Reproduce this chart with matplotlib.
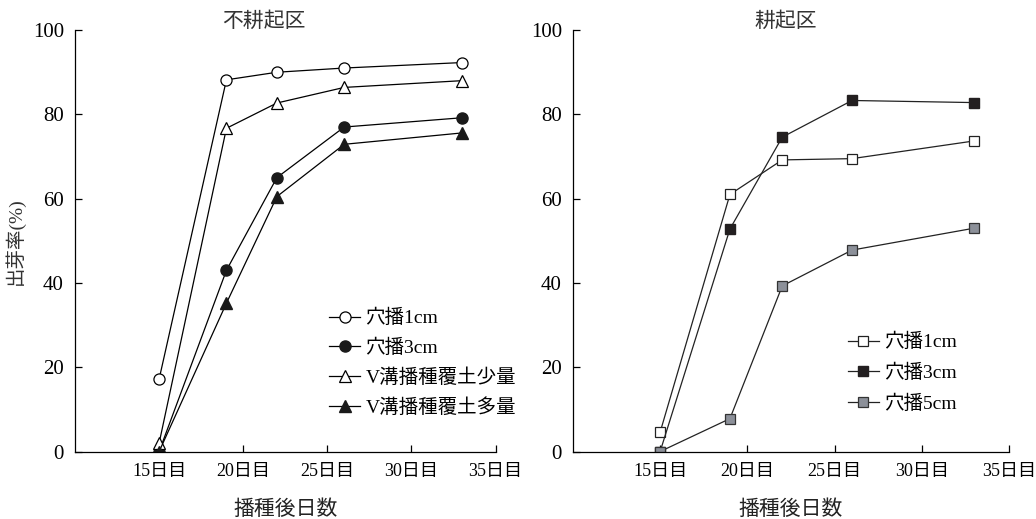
import matplotlib.pyplot as plt

plt.rcParams['font.family'] = ['Liberation Serif', 'Noto Sans CJK JP']

# -----------------------------
# Data
# -----------------------------
days = [15, 19, 22, 26, 33]
xtick_pos = [15, 20, 25, 30, 35]
xtick_labels = ['15日目', '20日目', '25日目', '30日目', '35日目']

# 不耕起区
nt_hole1 = [17.2, 88.2, 90.0, 91.0, 92.3]
nt_hole3 = [0.0, 43.0, 65.0, 77.0, 79.2]
nt_v_low = [2.0, 76.7, 82.7, 86.4, 88.0]
nt_v_high = [0.0, 35.2, 60.5, 72.9, 75.6]

# 耕起区
t_hole1 = [4.6, 61.0, 69.2, 69.5, 73.7]
t_hole3 = [0.0, 52.8, 74.6, 83.3, 82.8]
t_hole5 = [0.0, 7.8, 39.3, 47.8, 53.0]

fig = plt.figure(figsize=(10.36, 5.19), dpi=100)
ax1 = fig.add_axes([0.0724, 0.130, 0.406, 0.812])
ax2 = fig.add_axes([0.553, 0.130, 0.421, 0.812])

lw = 0.9
ms = 8

# ---- left: 不耕起区 ----
ax1.plot(days, nt_hole1, color='black', lw=lw, marker='o', ms=ms, mfc='white', mec='black', mew=0.9, label='穴播1cm')
ax1.plot(days, nt_hole3, color='black', lw=lw, marker='o', ms=ms, mfc='#1a1a1a', mec='#1a1a1a', label='穴播3cm')
ax1.plot(days, nt_v_low, color='black', lw=lw, marker='^', ms=ms + 1, mfc='white', mec='black', mew=0.9, label='V溝播種覆土少量')
ax1.plot(days, nt_v_high, color='black', lw=lw, marker='^', ms=ms + 1, mfc='#1a1a1a', mec='#1a1a1a', label='V溝播種覆土多量')

# ---- right: 耕起区 ----
ax2.plot(days, t_hole1, color='#222222', lw=lw, marker='s', ms=ms - 0.5, mfc='white', mec='#222222', mew=0.9, label='穴播1cm')
ax2.plot(days, t_hole3, color='#222222', lw=lw, marker='s', ms=ms - 0.5, mfc='#231f20', mec='#231f20', label='穴播3cm')
ax2.plot(days, t_hole5, color='#222222', lw=lw, marker='s', ms=ms - 0.5, mfc='#8c9099', mec='#333333', mew=0.9, label='穴播5cm')

for ax, title, tx in [(ax1, '不耕起区', 0.45), (ax2, '耕起区', 0.487)]:
    ax.set_xlim(10, 35)
    ax.set_ylim(0, 100)
    ax.set_xticks(xtick_pos)
    ax.set_xticklabels(xtick_labels, fontsize=13)
    ax.set_yticks([0, 20, 40, 60, 80, 100])
    ax.tick_params(axis='y', labelsize=15, direction='in', length=5, width=0.9, pad=8)
    ax.tick_params(axis='x', direction='in', length=5, width=0.9, pad=8)
    for s in ['top', 'right']:
        ax.spines[s].set_visible(False)
    for s in ['left', 'bottom']:
        ax.spines[s].set_linewidth(0.9)
    ax.set_xlabel('播種後日数', fontsize=15, labelpad=15, color='#222222')
    ax.text(tx, 1.02, title, transform=ax.transAxes, ha='center', va='center', fontsize=15, color='#333333')

ax1.set_ylabel('出芽率(%)', fontsize=14, labelpad=6, color='#333333')

ax1.legend(loc='lower right', bbox_to_anchor=(1.09, 0.041), frameon=False, fontsize=14,
           handlelength=1.6, handletextpad=0.25, labelspacing=0.58)
ax2.legend(loc='lower right', bbox_to_anchor=(0.92, 0.051), frameon=False, fontsize=14,
           handlelength=1.6, handletextpad=0.25, labelspacing=0.63)

fig.savefig('out.png', dpi=100)
